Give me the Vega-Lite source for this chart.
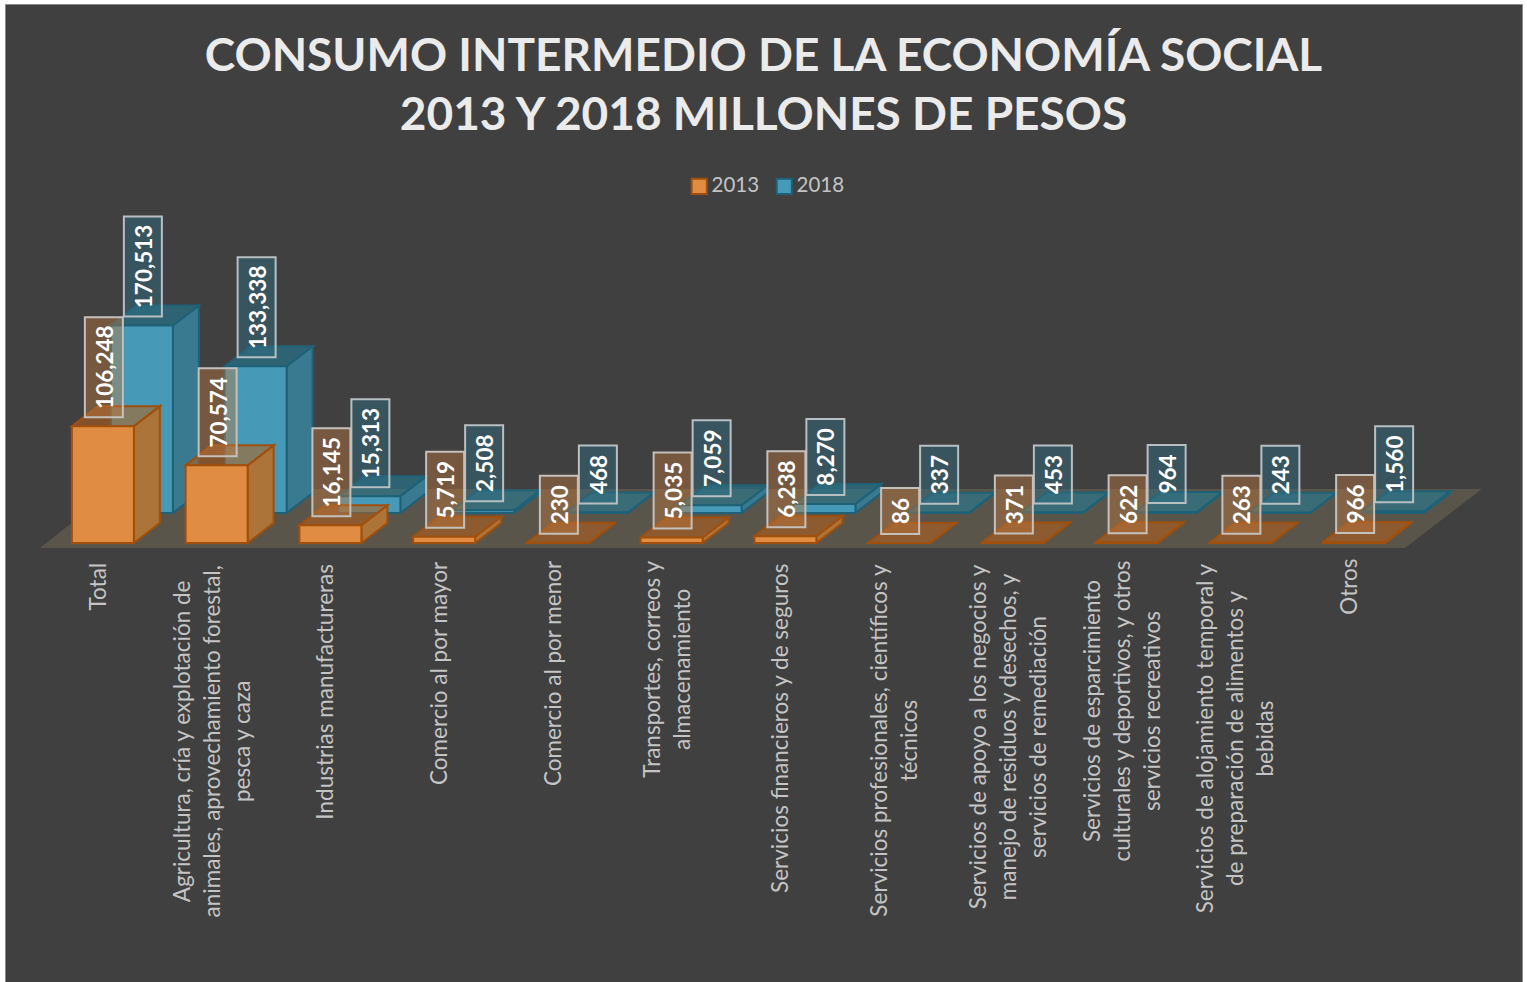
{"$schema":"https://vega.github.io/schema/vega-lite/v6.json","autosize":{"type":"none"},"padding":{"left":5,"top":4,"right":5,"bottom":0},"width":1517,"height":978,"background":"#ffffff","config":{"view":{"fill":"#404040","stroke":"#8a8a8a"}},"title":{"text":["CONSUMO INTERMEDIO DE LA ECONOMÍA SOCIAL","2013 Y 2018 MILLONES DE PESOS"],"anchor":"middle","frame":"group","font":"Lato","fontWeight":"bold","fontSize":46,"lineHeight":59,"color":"#ebebeb","baseline":"top","offset":0,"dy":136},"data":{"values":[
{"category":"Total","year":"2013","value":106248},{"category":"Agricultura, cría y explotación de|animales, aprovechamiento forestal,|pesca y caza","year":"2013","value":70574},{"category":"Industrias manufactureras","year":"2013","value":16145},{"category":"Comercio al por mayor","year":"2013","value":5719},{"category":"Comercio al por menor","year":"2013","value":230},{"category":"Transportes, correos y|almacenamiento","year":"2013","value":5035},{"category":"Servicios financieros y de seguros","year":"2013","value":6238},{"category":"Servicios profesionales, científicos y|técnicos","year":"2013","value":86},{"category":"Servicios de apoyo a los negocios y|manejo de residuos y desechos, y|servicios de remediación","year":"2013","value":371},{"category":"Servicios de esparcimiento|culturales y deportivos, y otros|servicios recreativos","year":"2013","value":622},{"category":"Servicios de alojamiento temporal y|de preparación de alimentos y|bebidas","year":"2013","value":263},{"category":"Otros","year":"2013","value":966},
{"category":"Total","year":"2018","value":170513},{"category":"Agricultura, cría y explotación de|animales, aprovechamiento forestal,|pesca y caza","year":"2018","value":133338},{"category":"Industrias manufactureras","year":"2018","value":15313},{"category":"Comercio al por mayor","year":"2018","value":2508},{"category":"Comercio al por menor","year":"2018","value":468},{"category":"Transportes, correos y|almacenamiento","year":"2018","value":7059},{"category":"Servicios financieros y de seguros","year":"2018","value":8270},{"category":"Servicios profesionales, científicos y|técnicos","year":"2018","value":337},{"category":"Servicios de apoyo a los negocios y|manejo de residuos y desechos, y|servicios de remediación","year":"2018","value":453},{"category":"Servicios de esparcimiento|culturales y deportivos, y otros|servicios recreativos","year":"2018","value":964},{"category":"Servicios de alojamiento temporal y|de preparación de alimentos y|bebidas","year":"2018","value":243},{"category":"Otros","year":"2018","value":1560}
]},
"transform":[
{"calculate":"format(datum.value,',')","as":"label"},
{"calculate":"22+12*length(datum.label)-(datum.value>=1000?6:0)","as":"boxPx"},
{"calculate":"datum.value+9/0.0011","as":"boxLow"},
{"calculate":"datum.boxLow+datum.boxPx/0.0011","as":"boxHigh"},
{"calculate":"(datum.boxLow+datum.boxHigh)/2","as":"boxMid"},
{"calculate":"datum.value*0.0011","as":"hPx"},
{"calculate":"datum.year=='2013'?37:76","as":"xo"},
{"calculate":"'M'+datum.xo+',0 L'+(datum.xo+26)+',-20 L'+(datum.xo+26)+','+(-20-datum.hPx)+' L'+datum.xo+','+(-datum.hPx)+' Z'","as":"sidePath"},
{"calculate":"split(datum.category,'|')","as":"lines"},
{"calculate":"length(datum.lines)","as":"lineCount"},
{"calculate":"datum.lines[0]","as":"l0"},
{"calculate":"datum.lines[1]||''","as":"l1"},
{"calculate":"datum.lines[2]||''","as":"l2"},
{"calculate":"11.7*length(datum.l0)-5.6*length(replace(datum.l0,/[^ilítfjr,. ]/g,''))+10*length(replace(datum.l0,/[^m]/g,''))","as":"w0"},
{"calculate":"11.7*length(datum.l1)-5.6*length(replace(datum.l1,/[^ilítfjr,. ]/g,''))+10*length(replace(datum.l1,/[^m]/g,''))","as":"w1"},
{"calculate":"11.7*length(datum.l2)-5.6*length(replace(datum.l2,/[^ilítfjr,. ]/g,''))+10*length(replace(datum.l2,/[^m]/g,''))","as":"w2"},
{"calculate":"-(20+max(datum.w0,datum.w1,datum.w2)/2)/0.0011","as":"labelPos"}
],
"resolve":{"scale":{"y":"independent"}},
"layer":[
{"transform":[{"filter":"datum.category=='Total'&&datum.year=='2013'"}],"mark":{"type":"point","filled":true,"size":4,"opacity":1,"fill":"#5a554b","strokeWidth":0,"shape":"M-57,5 L1308,5 L1385,-54 L18,-54 Z"},"encoding":{"x":{"field":"category","type":"nominal","sort":null,"axis":null,"scale":{"range":[35,1400],"paddingInner":0,"paddingOuter":0}},"y":{"datum":0,"type":"quantitative","axis":null,"scale":{"domain":[0,400000],"range":[539,99]}}}},
{"transform":[{"filter":"datum.year=='2018'"}],"mark":{"type":"point","filled":true,"size":4,"opacity":1,"fill":"#3a7a90","stroke":"#1f6176","strokeWidth":2},"encoding":{"x":{"field":"category","type":"nominal","sort":null,"axis":null},"y":{"datum":0,"type":"quantitative","axis":null,"scale":{"domain":[0,400000],"range":[509,69]}},"shape":{"field":"sidePath","type":"nominal","scale":null,"legend":null}}},
{"transform":[{"filter":"datum.year=='2018'"}],"mark":{"type":"point","filled":true,"size":4,"opacity":1,"fill":"#1f7f9c","fillOpacity":0.55,"stroke":"#1f6176","strokeWidth":2,"shape":"M14,0 L76,0 L102,-20 L40,-20 Z"},"encoding":{"x":{"field":"category","type":"nominal","sort":null,"axis":null},"y":{"field":"value","type":"quantitative","axis":null,"scale":{"domain":[0,400000],"range":[509,69]}}}},
{"transform":[{"filter":"datum.year=='2018'"}],"mark":{"type":"bar","width":62,"xOffset":45,"strokeWidth":2},"encoding":{"x":{"field":"category","type":"nominal","sort":null,"axis":null},"y":{"field":"value","type":"quantitative","axis":null,"scale":{"domain":[0,400000],"range":[509,69]}},"color":{"field":"year","type":"nominal","title":null,"scale":{"domain":["2013","2018"],"range":["#e08c42","#4699b7"]},"legend":{"orient":"none","legendX":684,"legendY":172,"direction":"horizontal","title":null,"symbolType":"square","symbolSize":230,"symbolStrokeWidth":2,"labelColor":"#c4c4c4","labelFont":"Lato","labelFontSize":20.5,"columnPadding":12,"labelOffset":2}},"stroke":{"field":"year","type":"nominal","title":null,"scale":{"domain":["2013","2018"],"range":["#a04f0c","#1f6176"]}}}},
{"transform":[{"filter":"datum.year=='2013'"}],"mark":{"type":"point","filled":true,"size":4,"opacity":1,"fill":"#ad7439","stroke":"#a04f0c","strokeWidth":2},"encoding":{"x":{"field":"category","type":"nominal","sort":null,"axis":null},"y":{"datum":0,"type":"quantitative","axis":null,"scale":{"domain":[0,400000],"range":[539,99]}},"shape":{"field":"sidePath","type":"nominal","scale":null,"legend":null}}},
{"transform":[{"filter":"datum.year=='2013'"}],"mark":{"type":"point","filled":true,"size":4,"opacity":1,"fill":"#b8601a","fillOpacity":0.55,"stroke":"#a04f0c","strokeWidth":2,"shape":"M-25,0 L37,0 L63,-20 L1,-20 Z"},"encoding":{"x":{"field":"category","type":"nominal","sort":null,"axis":null},"y":{"field":"value","type":"quantitative","axis":null,"scale":{"domain":[0,400000],"range":[539,99]}}}},
{"transform":[{"filter":"datum.year=='2013'"}],"mark":{"type":"bar","width":62,"xOffset":6,"strokeWidth":2},"encoding":{"x":{"field":"category","type":"nominal","sort":null,"axis":null},"y":{"field":"value","type":"quantitative","axis":null,"scale":{"domain":[0,400000],"range":[539,99]}},"color":{"field":"year","type":"nominal","title":null},"stroke":{"field":"year","type":"nominal","title":null}}},
{"transform":[{"filter":"datum.year=='2018'"}],"mark":{"type":"bar","width":38,"xOffset":46,"fill":"#2f6f86","fillOpacity":0.45,"stroke":"#b8bfc2","strokeWidth":2},"encoding":{"x":{"field":"category","type":"nominal","sort":null,"axis":null},"y":{"field":"boxLow","type":"quantitative","axis":null,"scale":{"domain":[0,400000],"range":[509,69]}},"y2":{"field":"boxHigh"}}},
{"transform":[{"filter":"datum.year=='2013'"}],"mark":{"type":"bar","width":38,"xOffset":7,"fill":"#c07a40","fillOpacity":0.42,"stroke":"#c4c0bc","strokeWidth":2},"encoding":{"x":{"field":"category","type":"nominal","sort":null,"axis":null},"y":{"field":"boxLow","type":"quantitative","axis":null,"scale":{"domain":[0,400000],"range":[539,99]}},"y2":{"field":"boxHigh"}}},
{"transform":[{"filter":"datum.year=='2018'"}],"mark":{"type":"text","xOffset":48,"angle":270,"align":"center","baseline":"middle","font":"Lato","fontWeight":"bold","fontSize":22.5,"fill":"#ffffff"},"encoding":{"x":{"field":"category","type":"nominal","sort":null,"axis":null},"y":{"field":"boxMid","type":"quantitative","axis":null,"scale":{"domain":[0,400000],"range":[509,69]}},"text":{"field":"label","type":"nominal"}}},
{"transform":[{"filter":"datum.year=='2013'"}],"mark":{"type":"text","xOffset":9,"angle":270,"align":"center","baseline":"middle","font":"Lato","fontWeight":"bold","fontSize":22.5,"fill":"#ffffff"},"encoding":{"x":{"field":"category","type":"nominal","sort":null,"axis":null},"y":{"field":"boxMid","type":"quantitative","axis":null,"scale":{"domain":[0,400000],"range":[539,99]}},"text":{"field":"label","type":"nominal"}}},
{"transform":[{"filter":"datum.year=='2013'&&datum.lineCount==1"}],"mark":{"type":"text","xOffset":2,"angle":270,"align":"center","baseline":"middle","font":"Lato","fontSize":22.5,"lineHeight":30,"lineBreak":"|","fill":"#c4c4c4"},"encoding":{"x":{"field":"category","type":"nominal","sort":null,"axis":null},"y":{"field":"labelPos","type":"quantitative","axis":null,"scale":{"domain":[0,400000],"range":[539,99]}},"text":{"field":"category","type":"nominal"}}},
{"transform":[{"filter":"datum.year=='2013'&&datum.lineCount==2"}],"mark":{"type":"text","xOffset":-13,"angle":270,"align":"center","baseline":"middle","font":"Lato","fontSize":22.5,"lineHeight":30,"lineBreak":"|","fill":"#c4c4c4"},"encoding":{"x":{"field":"category","type":"nominal","sort":null,"axis":null},"y":{"field":"labelPos","type":"quantitative","axis":null,"scale":{"domain":[0,400000],"range":[539,99]}},"text":{"field":"category","type":"nominal"}}},
{"transform":[{"filter":"datum.year=='2013'&&datum.lineCount==3"}],"mark":{"type":"text","xOffset":-28,"angle":270,"align":"center","baseline":"middle","font":"Lato","fontSize":22.5,"lineHeight":30,"lineBreak":"|","fill":"#c4c4c4"},"encoding":{"x":{"field":"category","type":"nominal","sort":null,"axis":null},"y":{"field":"labelPos","type":"quantitative","axis":null,"scale":{"domain":[0,400000],"range":[539,99]}},"text":{"field":"category","type":"nominal"}}}
]}
